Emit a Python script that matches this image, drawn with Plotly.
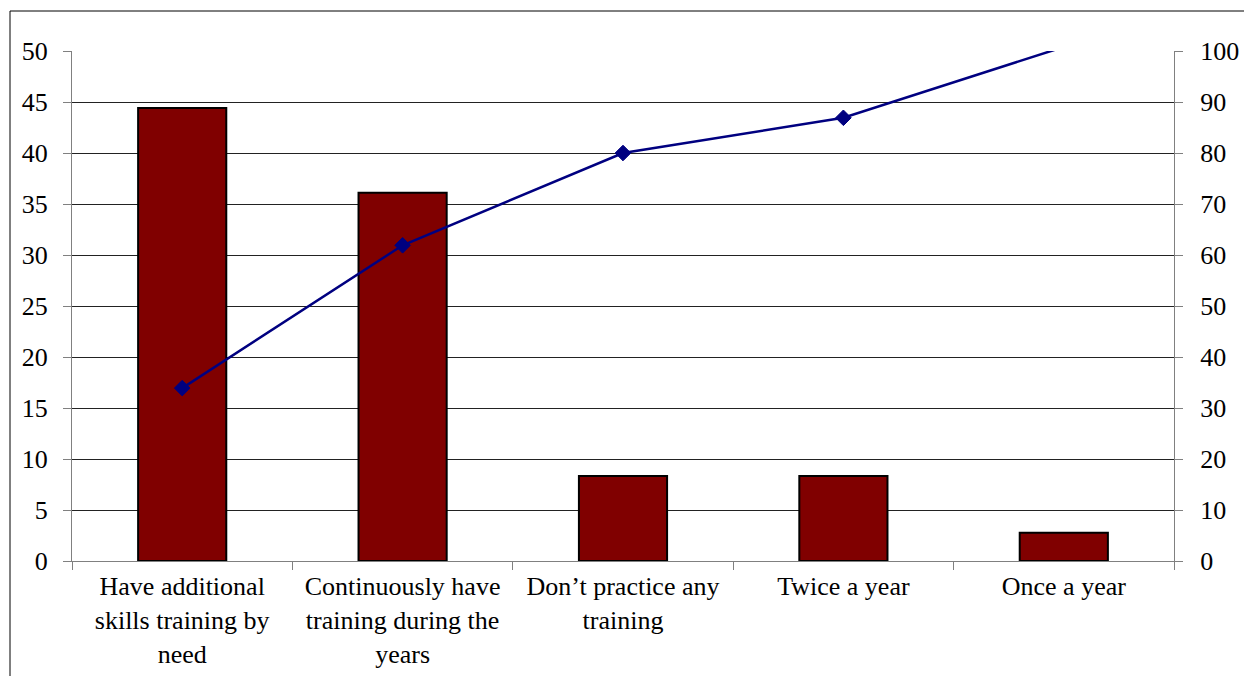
import plotly.graph_objects as go

# Survey categories (training frequency)
categories = [
    "Have additional<br>skills training by<br>need",
    "Continuously have<br>training during the<br>years",
    "Don’t practice any<br>training",
    "Twice a year",
    "Once a year",
]
# Share of respondents per category (left axis)
bar_values = [44.4, 36.1, 8.33, 8.33, 2.78]
# Line series on the right axis
line_values = [33.9, 61.9, 80.0, 86.9, 100.8]

FONT = "Liberation Serif"
FS = 26
RIGHT_MAX = 100

# points beyond the right-axis maximum get no marker (the line is clipped there)
marker_sizes = [12 if v <= RIGHT_MAX else 0 for v in line_values]

fig = go.Figure()
fig.add_trace(go.Bar(
    x=categories, y=bar_values,
    marker=dict(color="#800000", line=dict(color="#000000", width=2)),
    width=0.4, showlegend=False,
))
fig.add_trace(go.Scatter(
    x=categories, y=line_values, yaxis="y2",
    mode="lines+markers",
    line=dict(color="#000080", width=2.5),
    marker=dict(symbol="diamond", size=marker_sizes, color="#000080",
                opacity=1, line=dict(width=1, color="#000080")),
    cliponaxis=True, showlegend=False,
))

fig.update_layout(
    width=1244, height=676,
    margin=dict(l=72, r=70, t=51, b=115),
    paper_bgcolor="white", plot_bgcolor="white",
    font=dict(family=FONT, size=FS, color="black"),
    xaxis=dict(
        type="category", automargin=False,
        showline=True, linecolor="#808080", linewidth=1,
        ticks="outside", tickson="boundaries", ticklen=8,
        tickcolor="#808080", showgrid=False,
        tickfont=dict(family=FONT, size=FS),
        ticklabelstandoff=2,
    ),
    yaxis=dict(
        range=[0, 50], dtick=5, automargin=False,
        showline=True, linecolor="#808080", linewidth=1,
        ticks="outside", ticklen=8, tickcolor="#808080",
        showgrid=True, gridcolor="#222222", gridwidth=1,
        zeroline=False,
        tickfont=dict(family=FONT, size=FS),
        ticklabelstandoff=10,
    ),
    yaxis2=dict(
        range=[0, RIGHT_MAX], dtick=10, overlaying="y", side="right",
        automargin=False,
        showline=True, linecolor="#808080", linewidth=1,
        ticks="outside", ticklen=8, tickcolor="#808080",
        showgrid=False, zeroline=False,
        tickfont=dict(family=FONT, size=FS),
        ticklabelstandoff=12,
    ),
    shapes=[
        # chart-area frame (top and left edges)
        dict(type="line", xref="paper", yref="paper",
             x0=-62 / 1102, x1=1.2, y0=1 + 40 / 510, y1=1 + 40 / 510,
             line=dict(color="black", width=1)),
        dict(type="line", xref="paper", yref="paper",
             x0=-62 / 1102, x1=-62 / 1102, y0=1 + 40 / 510, y1=-0.4,
             line=dict(color="black", width=1)),
    ],
)

fig.write_html("out.html")
